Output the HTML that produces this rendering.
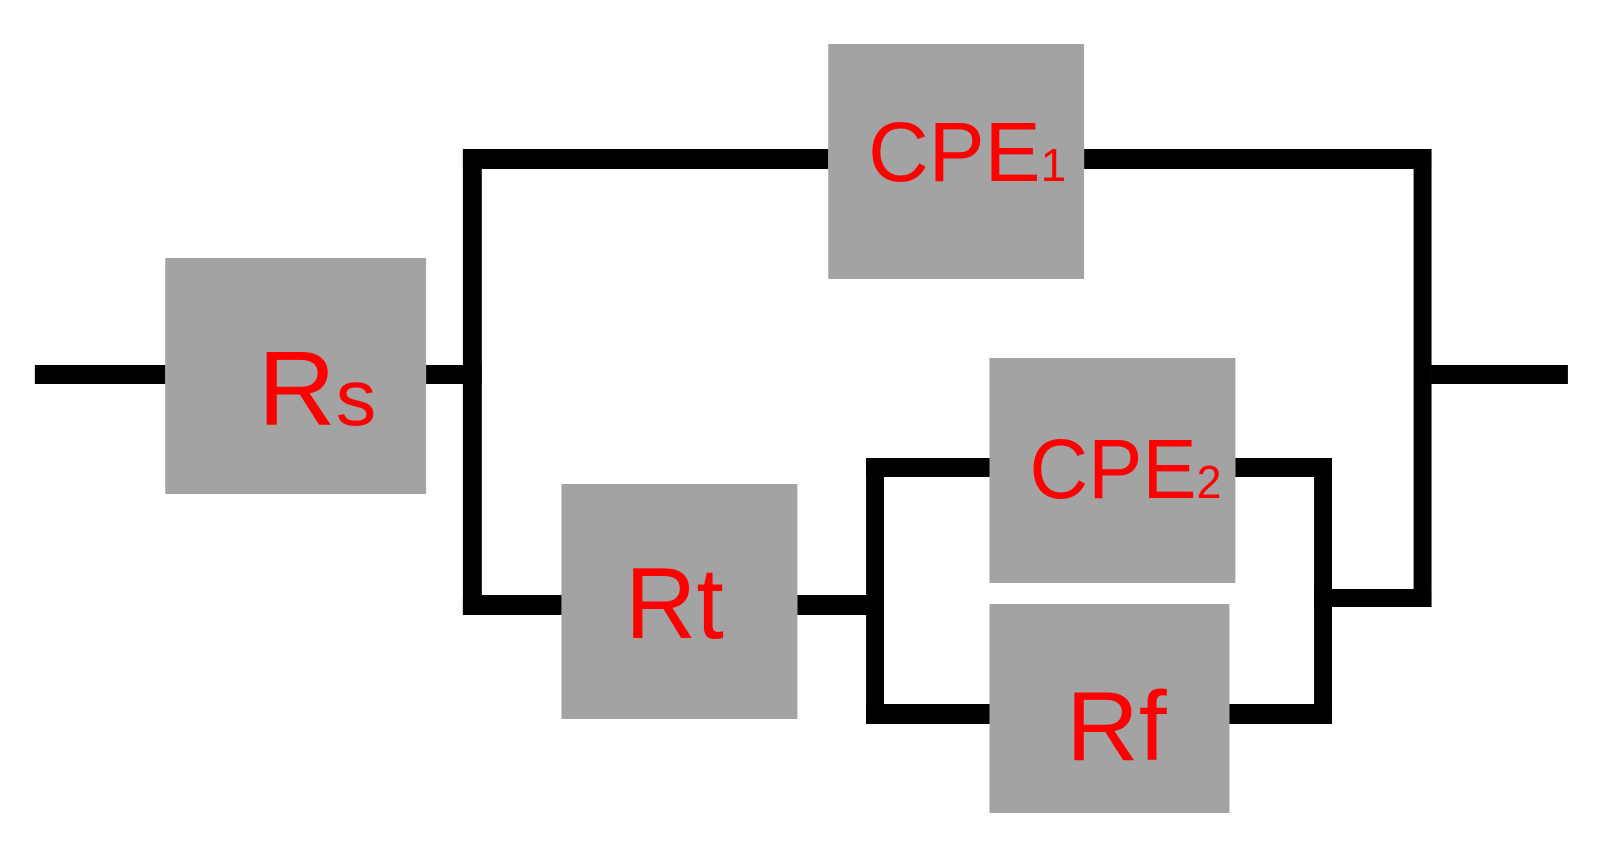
<!DOCTYPE html>
<html><head><style>html,body{margin:0;padding:0;background:#fff}svg{display:block}</style></head>
<body>
<svg width="1606" height="851" viewBox="0 0 1606 851" xmlns="http://www.w3.org/2000/svg">
<g transform="scale(0.9955,1)">
<g fill="#000">
<rect x="35" y="365" width="131" height="19"/>
<rect x="428" y="365" width="56" height="19"/>
<rect x="465" y="149" width="19" height="466"/>
<rect x="465" y="149" width="367" height="20"/>
<rect x="1089" y="149" width="349" height="20"/>
<rect x="1420" y="149" width="18" height="458"/>
<rect x="1438" y="365" width="137" height="19"/>
<rect x="465" y="595" width="99" height="20"/>
<rect x="801" y="595" width="87" height="20"/>
<rect x="870" y="458" width="18" height="266"/>
<rect x="870" y="458" width="124" height="19"/>
<rect x="870" y="704" width="124" height="20"/>
<rect x="1241" y="458" width="97" height="19"/>
<rect x="1235" y="704" width="103" height="20"/>
<rect x="1320" y="458" width="18" height="266"/>
<rect x="1320" y="589" width="118" height="18"/>
</g>
<g fill="#a3a3a3">
<rect x="166" y="258" width="262" height="236"/>
<rect x="832" y="44" width="257" height="235"/>
<rect x="994" y="358" width="247" height="225"/>
<rect x="564" y="484" width="237" height="235"/>
<rect x="994" y="604" width="241" height="209"/>
</g>
<g fill="#ff0000" font-family="Liberation Sans, sans-serif">
<text x="259" y="425" font-size="106" textLength="119" lengthAdjust="spacingAndGlyphs">R<tspan font-size="80">s</tspan></text>
<text x="872" y="181" font-size="84" textLength="199" lengthAdjust="spacingAndGlyphs">CPE<tspan font-size="46">1</tspan></text>
<text x="1034" y="498" font-size="84" textLength="193" lengthAdjust="spacingAndGlyphs">CPE<tspan font-size="46">2</tspan></text>
<text x="628" y="638" font-size="101" textLength="99" lengthAdjust="spacingAndGlyphs">Rt</text>
<text x="1071" y="760" font-size="98" textLength="101" lengthAdjust="spacingAndGlyphs">Rf</text>
</g>
</g>
</svg>
</body></html>
